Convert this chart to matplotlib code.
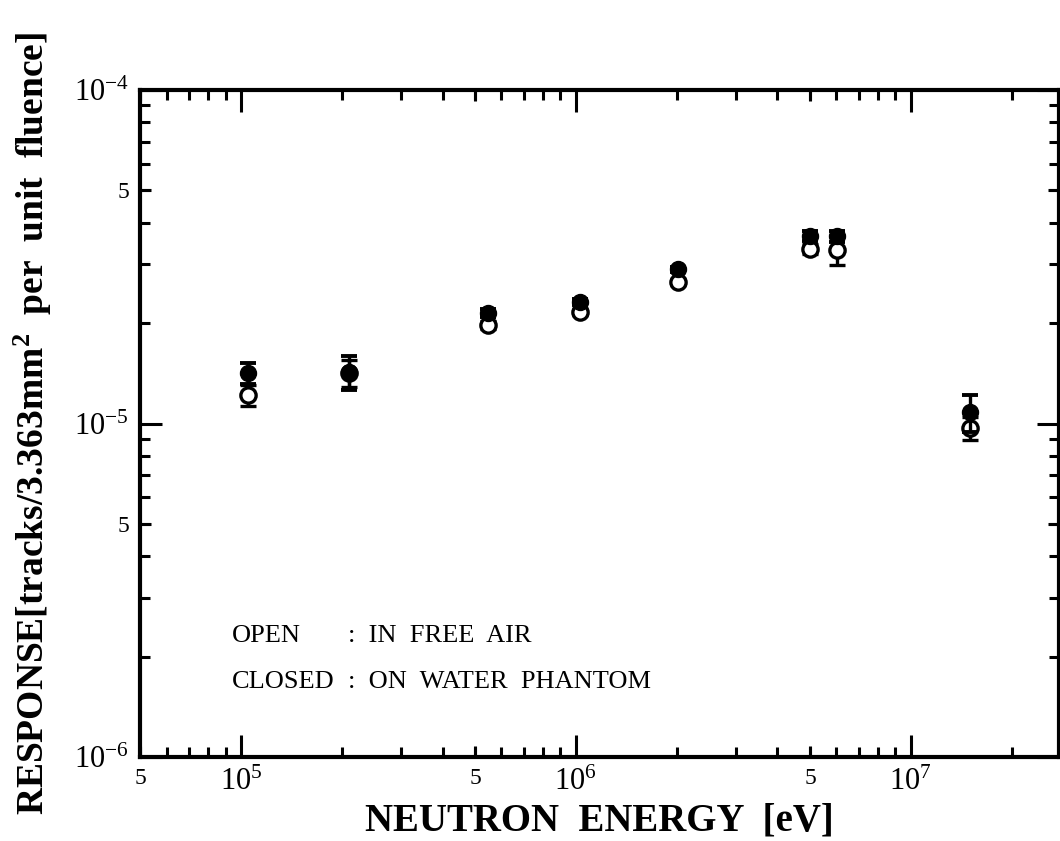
import numpy as np
import matplotlib
matplotlib.use('Agg')
import matplotlib.pyplot as plt
from matplotlib.ticker import LogLocator, FuncFormatter

plt.rcParams['font.family'] = 'Liberation Serif'
plt.rcParams['mathtext.fontset'] = 'custom'
plt.rcParams['mathtext.rm'] = 'Liberation Serif'
plt.rcParams['mathtext.it'] = 'Liberation Serif:italic'
plt.rcParams['mathtext.bf'] = 'Liberation Serif:bold'

# Energia dos nêutrons (eV)
energy = [1.05e5, 2.11e5, 5.46e5, 1.028e6, 2.016e6, 4.995e6, 6.01e6, 1.50e7]

# Resposta - detector fechado (sobre fantoma de água)
closed_resp = [1.415e-5, 1.427e-5, 2.145e-5, 2.313e-5, 2.905e-5, 3.65e-5, 3.65e-5, 1.082e-5]
closed_err = [0.105e-5, 0.165e-5, 0.06e-5, 0.05e-5, 0.05e-5, 0.12e-5, 0.14e-5, 0.136e-5]

# Resposta - detector aberto (ao ar livre)
open_resp = [1.218e-5, 1.42e-5, 1.974e-5, 2.16e-5, 2.656e-5, 3.336e-5, 3.32e-5, 9.69e-6]
open_err = [0.09e-5, 0.13e-5, 0.05e-5, 0.05e-5, 0.05e-5, 0.12e-5, 0.33e-5, 0.076e-5]

fig = plt.figure(figsize=(10.6, 8.41), dpi=100)
ax = fig.add_axes([140 / 1060, 84 / 841, 919 / 1060, 667 / 841])

ax.errorbar(energy, open_resp, yerr=open_err, fmt='o', mfc='white', mec='black',
            mew=2.4, ms=11, ecolor='black', elinewidth=2.4, capsize=5.5, capthick=2.8,
            zorder=3)
ax.errorbar(energy, closed_resp, yerr=closed_err, fmt='o', mfc='black', mec='black',
            ms=11.5, ecolor='black', elinewidth=2.4, capsize=5.5, capthick=2.8, zorder=4)

ax.set_xscale('log')
ax.set_yscale('log')
ax.set_xlim(5e4, 2.77e7)
ax.set_ylim(1e-6, 1e-4)

def major_fmt(v, pos):
    return r'$10^{%d}$' % int(round(np.log10(v)))

def minor_fmt(v, pos):
    m = v / 10 ** np.floor(np.log10(v) + 1e-9)
    return '5' if abs(m - 5) < 0.01 else ''

for axis in (ax.xaxis, ax.yaxis):
    axis.set_major_locator(LogLocator(base=10, numticks=10))
    axis.set_minor_locator(LogLocator(base=10, subs=np.arange(2, 10), numticks=20))
    axis.set_major_formatter(FuncFormatter(major_fmt))
    axis.set_minor_formatter(FuncFormatter(minor_fmt))

ax.tick_params(which='both', direction='in', top=True, right=True, width=2.2, color='black')
ax.tick_params(which='major', length=16, labelsize=22)
ax.tick_params(which='minor', length=7, labelsize=17)
ax.tick_params(axis='x', which='both', pad=8)
ax.tick_params(axis='y', which='both', pad=8)

# ticks um pouco maiores nas posições "5"
for v in [5e4, 5e5, 5e6]:
    ax.plot([v, v], [0, 0.016], transform=ax.get_xaxis_transform(), color='black', lw=2.2,
            solid_capstyle='butt', clip_on=False)
    ax.plot([v, v], [1, 0.984], transform=ax.get_xaxis_transform(), color='black', lw=2.2,
            solid_capstyle='butt', clip_on=False)
for v in [5e-6, 5e-5]:
    ax.plot([0, 0.012], [v, v], transform=ax.get_yaxis_transform(), color='black', lw=2.2,
            solid_capstyle='butt', clip_on=False)
    ax.plot([1, 0.988], [v, v], transform=ax.get_yaxis_transform(), color='black', lw=2.2,
            solid_capstyle='butt', clip_on=False)

for s in ax.spines.values():
    s.set_linewidth(3)

ax.set_xlabel('NEUTRON  ENERGY  [eV]', fontsize=28, fontweight='bold', labelpad=4)
ax.set_ylabel('RESPONSE[tracks/3.363mm$^{\\mathbf{2}}$  per  unit  fluence]', fontsize=27,
              fontweight='bold', labelpad=14)

ax.text(0.10, 0.181, 'OPEN', transform=ax.transAxes, fontsize=19, va='center')
ax.text(0.226, 0.181, ':  IN  FREE  AIR', transform=ax.transAxes, fontsize=19, va='center')
ax.text(0.10, 0.112, 'CLOSED', transform=ax.transAxes, fontsize=19, va='center')
ax.text(0.226, 0.112, ':  ON  WATER  PHANTOM', transform=ax.transAxes, fontsize=19, va='center')

fig.savefig('out.png', dpi=100)
